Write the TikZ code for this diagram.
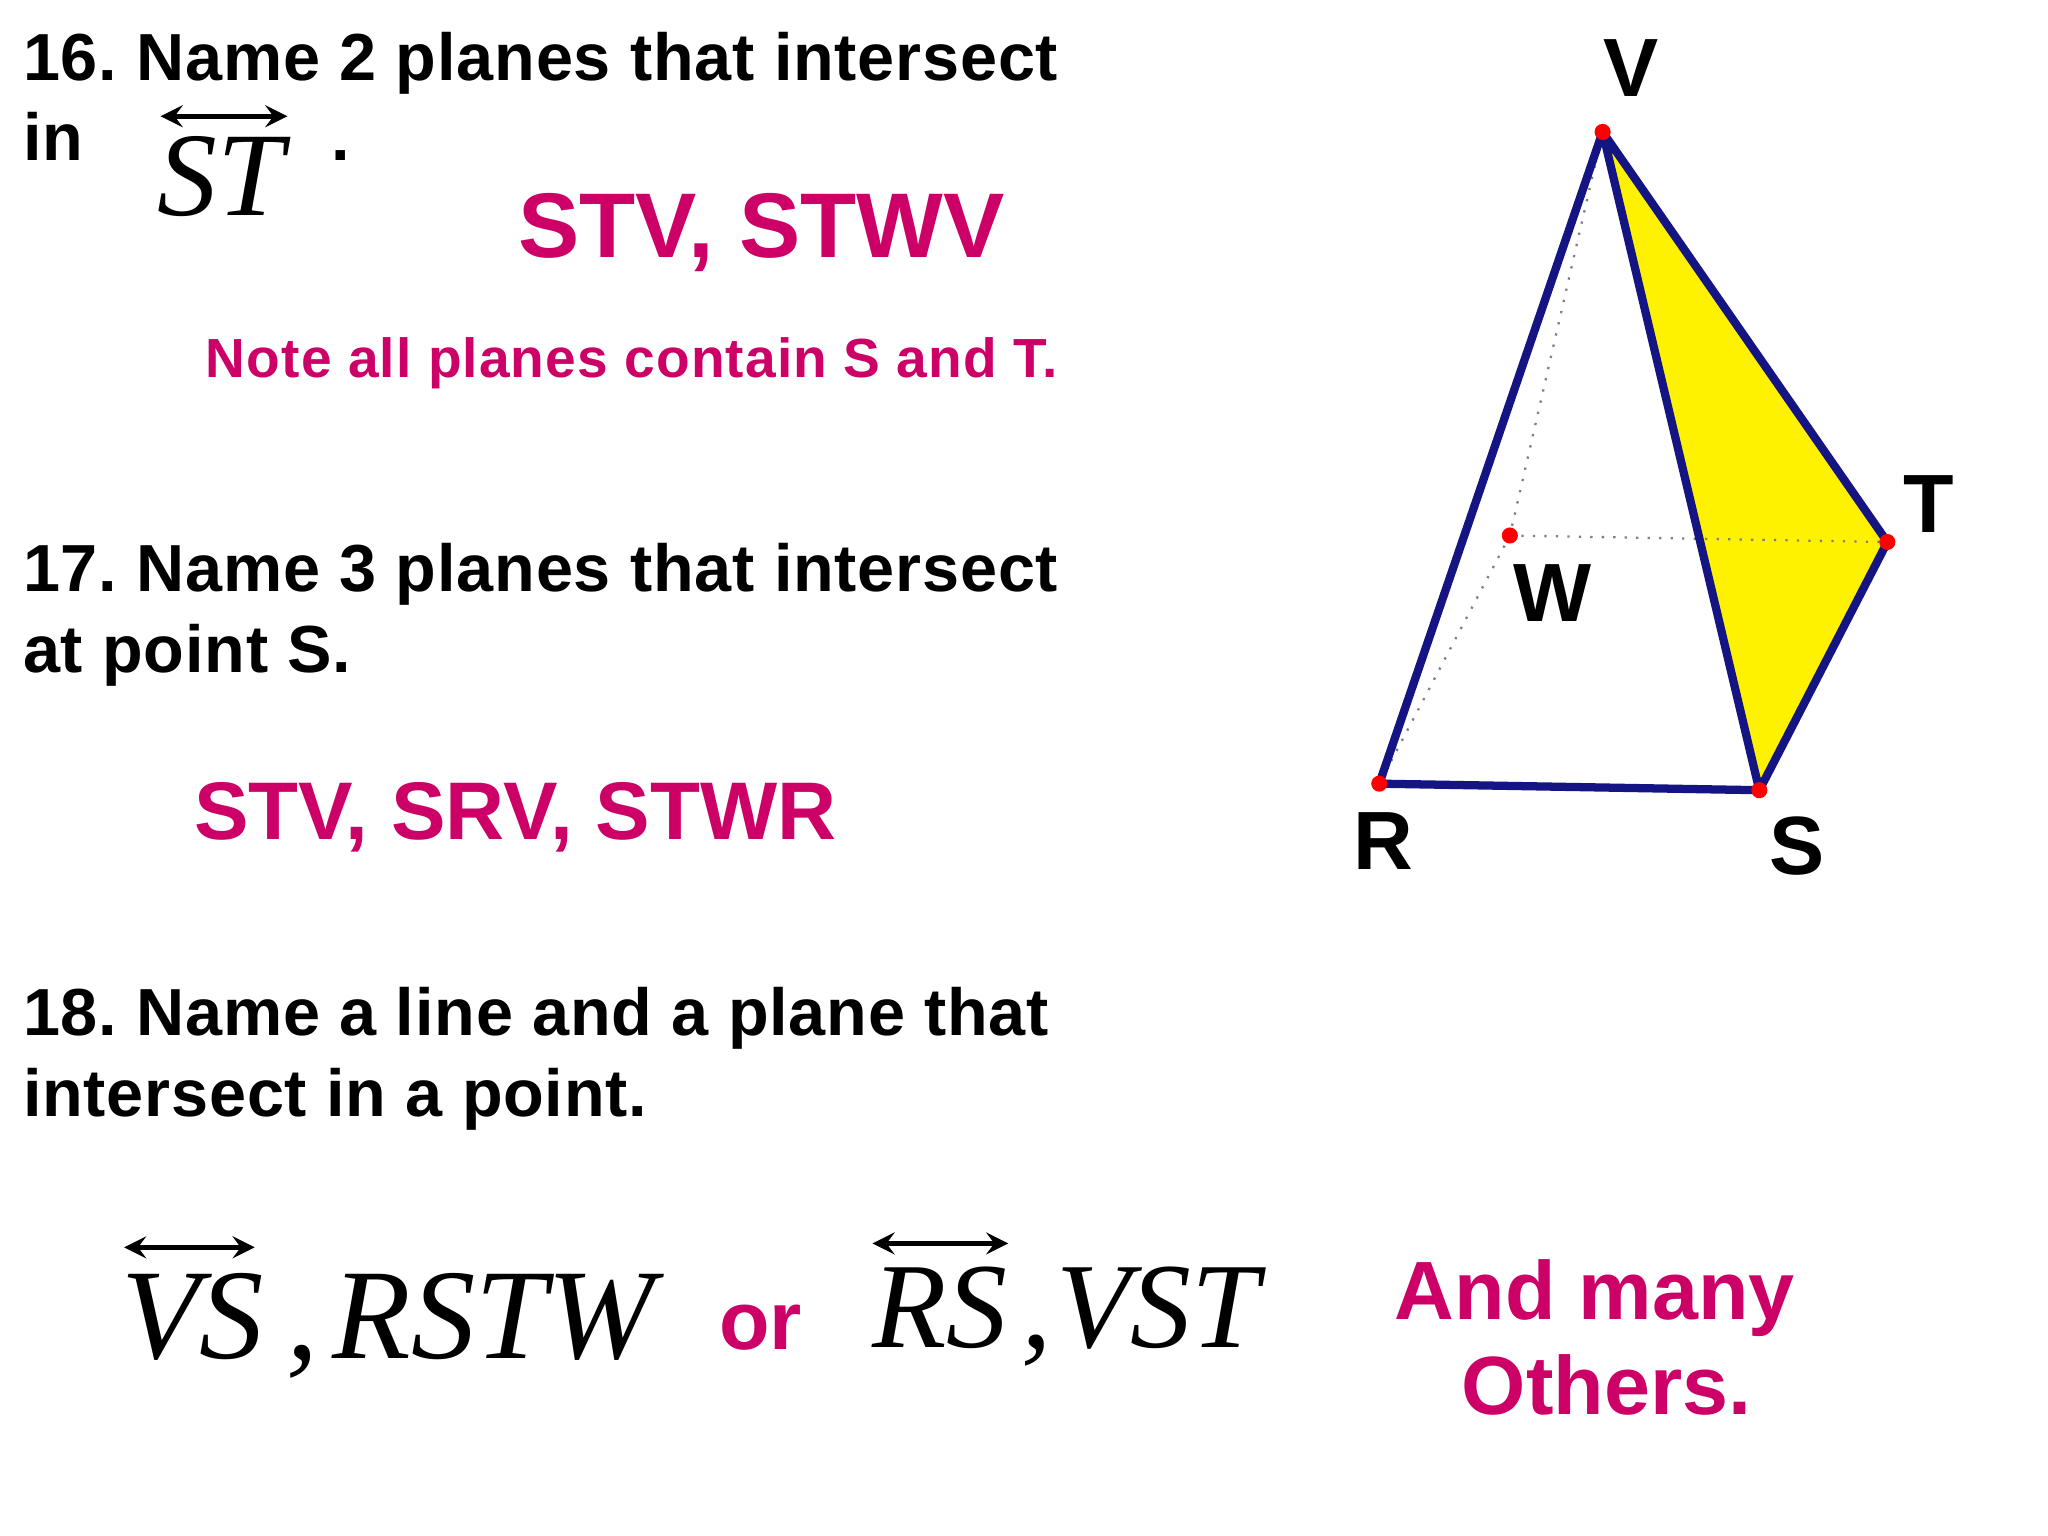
\documentclass[tikz,border=0pt]{standalone}
\usepackage{fontspec}
\setmainfont{Liberation Sans}
\newfontfamily\tms{Liberation Serif}
\newfontfamily\wide[LetterSpace=1.2]{Liberation Sans}
\newfontfamily\notef[LetterSpace=2]{Liberation Sans}
\definecolor{mag}{RGB}{204,0,102}
\definecolor{navy}{RGB}{20,20,130}
\begin{document}
\frenchspacing
\begin{tikzpicture}[x=0.01cm,y=-0.01cm,
  blk/.style={anchor=base west,inner sep=0,font=\wide\fontsize{14.5}{16}\selectfont\bfseries},
  mg/.style={anchor=base west,inner sep=0,text=mag,font=\bfseries},
  mth/.style={anchor=base west,inner sep=0,font=\tms\itshape},
  ar/.style={<->,>=stealth,line width=1.1pt},
  edge/.style={navy,line width=1.8pt,line join=round},
  hid/.style={gray,dotted,line width=0.5pt},
  pt/.style={circle,fill=red,inner sep=0,minimum size=3.5pt},
  lab/.style={font=\fontsize{18}{20}\selectfont\bfseries,inner sep=0}]
\useasboundingbox (0,0) rectangle (1568,1176);
\node[blk] (l1) at (17,62) {16. Name 2 planes that intersect};
\node[blk] (l2) at (17,123) {in};
\node[mth,font=\tms\itshape\fontsize{26}{28}\selectfont] (st) at (120,165) {ST};
\node[blk] (dot) at (253,123) {.};
\draw[ar] (123,89) -- (220,89);
\node[mg,font=\fontsize{20}{22}\selectfont\bfseries] (a16) at (396,197) {STV, STWV};
\node[mg,font=\notef\fontsize{12}{14}\selectfont\bfseries] (note) at (157,289) {Note all planes contain S and T.};
\node[blk] (l3) at (17,453) {17. Name 3 planes that intersect};
\node[blk] (l4) at (17,515) {at point S.};
\node[mg,font=\fontsize{17.8}{20}\selectfont\bfseries] (a17) at (148,643) {STV, SRV, STWR};
\node[blk] (l5) at (17,793) {18. Name a line and a plane that};
\node[blk] (l6) at (17,855) {intersect in a point.};
\node[mth,font=\tms\itshape\fontsize{28}{30}\selectfont] (vs) at (92,1040) {VS\kern5pt,\kern3pt RSTW};
\draw[ar] (95,955) -- (195,955);
\node[mg,font=\fontsize{18}{20}\selectfont\bfseries] (or) at (550,1033) {or};
\node[mth,font=\tms\itshape\fontsize{26.5}{30}\selectfont] (rs) at (667,1032) {RS\kern3pt,\kern1pt VST};
\draw[ar] (668,952) -- (772,952);
\node[mg,font=\fontsize{18}{20}\selectfont\bfseries,anchor=base] (many) at (1221,1010) {And many};
\node[mg,font=\fontsize{18}{20}\selectfont\bfseries,anchor=base] (oth) at (1230,1083) {Others.};
% pyramid
\coordinate (V) at (1227,101);
\coordinate (T) at (1445,415);
\coordinate (W) at (1156,410);
\coordinate (R) at (1056,600);
\coordinate (S) at (1347,605);
\fill[yellow] (V) -- (S) -- (T) -- cycle;
\draw[hid] (V) -- (W) (W) -- (T) (W) -- (R);
\draw[edge] (V) -- (R) -- (S) -- (T) -- cycle (V) -- (S);
\foreach \p in {V,T,W,R,S} \node[pt] (d\p) at (\p) {};
\node[lab] (lV) at (1249,52) {V};
\node[lab] (lT) at (1477,386) {T};
\node[lab] (lW) at (1189,454) {W};
\node[lab] (lR) at (1059,644) {R};
\node[lab] (lS) at (1376,648) {S};
\end{tikzpicture}
\end{document}
